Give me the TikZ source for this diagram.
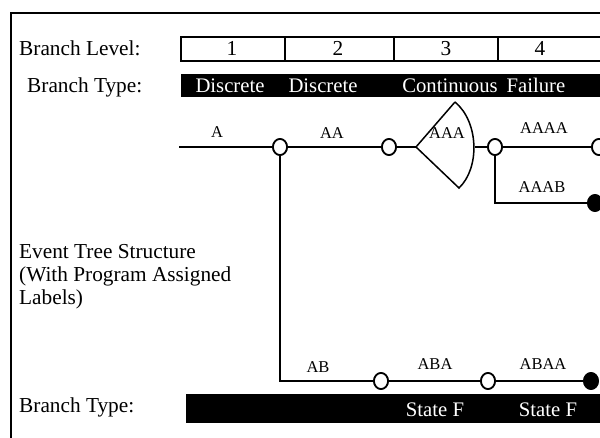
\documentclass[tikz,border=0pt]{standalone}
\usepackage{fontspec}
\setmainfont{Liberation Serif}
\usetikzlibrary{shapes.geometric}

\begin{document}
\begin{tikzpicture}[x=1pt,y=-1pt,
  bigtxt/.style={font=\fontsize{21.3}{23}\selectfont, inner sep=0pt},
  bartxt/.style={font=\fontsize{20.7}{23}\selectfont, inner sep=0pt, text=white},
  lbl/.style={font=\fontsize{16.5}{19}\selectfont, inner sep=0pt},
  wire/.style={line width=1.9pt},
  opennode/.style={ellipse, draw, line width=1.7pt, fill=white, inner sep=0pt,
                   minimum width=14pt, minimum height=16pt},
  endnode/.style={opennode, fill=black},
  typebar/.style={fill=black},
]
\useasboundingbox (0,0) rectangle (600,438);
\clip (0,0) rectangle (600,438);

% outer frame
\draw[line width=1.3pt] (11,13) rectangle (640,470);

% branch level table
\draw[line width=1.2pt] (181,37) rectangle (640,61);
\foreach \x in {285,394,498} \draw[line width=1.2pt] (\x,37) -- (\x,61);
\node[bigtxt, anchor=base west] (lvl) at (19,56) {Branch Level:};
\node[bigtxt, anchor=base] (l1) at (232,56) {1};
\node[bigtxt, anchor=base] (l2) at (338,56) {2};
\node[bigtxt, anchor=base] (l3) at (446,56) {3};
\node[bigtxt, anchor=base] (l4) at (540,56) {4};

% branch type bar (top)
\fill[typebar] (181,74) rectangle (640,97);
\node[bigtxt, anchor=base west] (bt1) at (27,93) {Branch Type:};
\node[bartxt, anchor=base] (d1) at (230,93) {Discrete};
\node[bartxt, anchor=base] (d2) at (323,93) {Discrete};
\node[bartxt, anchor=base] (c3) at (450,93) {Continuous};
\node[bartxt, anchor=base] (f4) at (536,93) {Failure};

% event tree
\coordinate (start) at (179,147);
\coordinate (apex) at (416,147);
\coordinate (ftop) at (455,102);
\coordinate (fbot) at (459,188);
\coordinate (fright) at (475,147);

\node[opennode] (nA) at (280,147) {};
\node[opennode] (nAA) at (389,147) {};
\node[opennode] (nAAA) at (495,147) {};
\node[opennode] (nAAAA) at (599,147) {};
\node[endnode] (nAAAB) at (595,203) {};
\node[opennode] (nAB) at (381,381) {};
\node[opennode] (nABA) at (488,381) {};
\node[endnode] (nABAA) at (591,381) {};

\draw[wire] (start) -- (nA);
\draw[wire] (nA) -- (nAA);
\draw[wire] (nAA) -- (apex);
\draw[line width=1.5pt, line join=miter] (ftop) -- (apex) -- (fbot)
  .. controls (480,168) and (479,122) .. (ftop);
\draw[wire] (fright) -- (nAAA);
\draw[wire] (nAAA) -- (nAAAA);
\draw[wire] (nAAA) |- (nAAAB);
\draw[wire] (nA) |- (nAB);
\draw[wire] (nAB) -- (nABA);
\draw[wire] (nABA) -- (nABAA);

% redraw nodes above the wires
\node[opennode] at (nA) {};
\node[opennode] at (nAA) {};
\node[opennode] at (nAAA) {};
\node[opennode] at (nAAAA) {};
\node[endnode] at (nAAAB) {};
\node[opennode] at (nAB) {};
\node[opennode] at (nABA) {};
\node[endnode] at (nABAA) {};

% branch labels
\node[lbl, anchor=base] (tA) at (217,137.5) {A};
\node[lbl, anchor=base] (tAA) at (332,138.5) {AA};
\node[lbl, anchor=base] (tAAA) at (447,139) {AAA};
\node[lbl, anchor=base] (tAAAA) at (544,133.5) {AAAA};
\node[lbl, anchor=base] (tAAAB) at (542,192.5) {AAAB};
\node[lbl, anchor=base] (tAB) at (318,373) {AB};
\node[lbl, anchor=base] (tABA) at (435,370) {ABA};
\node[lbl, anchor=base] (tABAA) at (543,370) {ABAA};

% side caption
\node[bigtxt, anchor=base west] (cap1) at (19,259) {Event Tree Structure};
\node[bigtxt, anchor=base west] (cap2) at (19,282) {(With Program Assigned};
\node[bigtxt, anchor=base west] (cap3) at (19,305) {Labels)};

% branch type bar (bottom)
\fill[typebar] (186,394) rectangle (640,423);
\node[bigtxt, anchor=base west] (bt2) at (19,412) {Branch Type:};
\node[bartxt, anchor=base] (s1) at (435,416) {State F};
\node[bartxt, anchor=base] (s2) at (548,416) {State F};
\end{tikzpicture}
\end{document}
